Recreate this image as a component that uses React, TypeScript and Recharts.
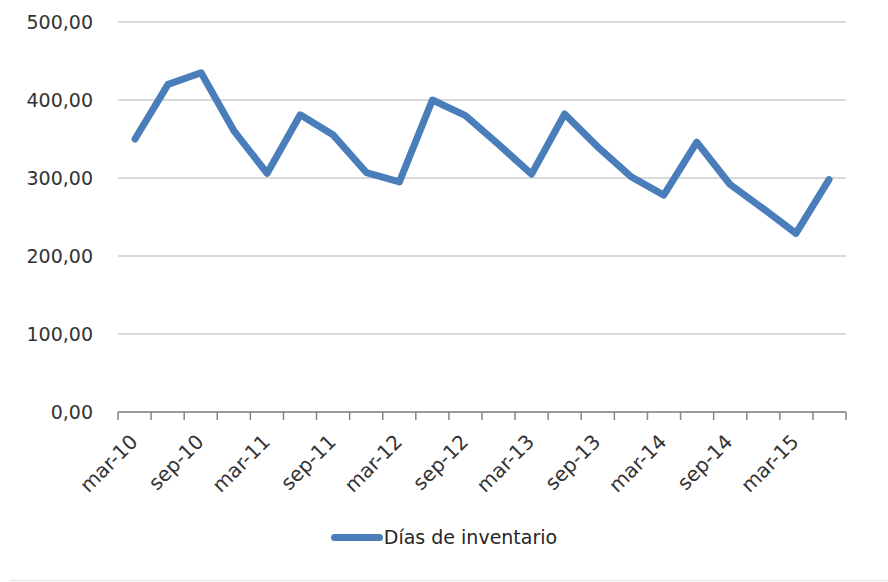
import {
  LineChart, Line, XAxis, YAxis, CartesianGrid, Legend,
} from "recharts";

const meses = [
  "mar-10", "jun-10", "sep-10", "dic-10",
  "mar-11", "jun-11", "sep-11", "dic-11",
  "mar-12", "jun-12", "sep-12", "dic-12",
  "mar-13", "jun-13", "sep-13", "dic-13",
  "mar-14", "jun-14", "sep-14", "dic-14",
  "mar-15", "jun-15",
];
const diasInventario = [
  350, 420, 435, 360, 306, 381, 355, 307, 295, 400, 380,
  343, 305, 382, 340, 302, 278, 346, 292, 261, 229, 298,
];
const yTicks = [0, 100, 200, 300, 400, 500];
// boundaries between the quarters, where the little tick marks sit
const limites = Array.from({ length: meses.length + 1 }, (_, i) => i - 0.5);

const data = meses.map((m, i) => ({ mes: m, pos: i, dias: diasInventario[i] }));

const FONT = "'DejaVu Sans', Verdana, sans-serif";
const AZUL = "#4a7ebb";
const TEXTO = "#333333";

const fmt = (v: number) => v.toFixed(2).replace(".", ",");

function MesTick({ x, y, payload }: any) {
  return (
    <g transform={`translate(${x},${y})`}>
      <text
        x={4}
        y={30}
        transform="rotate(-45 4 30)"
        textAnchor="end"
        fontFamily={FONT}
        fontSize={20}
        fill={TEXTO}
      >
        {payload.value}
      </text>
    </g>
  );
}

function Leyenda() {
  return (
    <div
      style={{
        display: "flex",
        alignItems: "center",
        justifyContent: "center",
        height: 24,
        fontFamily: FONT,
        fontSize: 19,
        color: "#262626",
      }}
    >
      <span style={{ display: "inline-block", width: 52, height: 7, borderRadius: 4, background: AZUL, marginRight: 1 }} />
      Días de inventario
    </div>
  );
}

export default function App() {
  return (
    <div style={{ position: "absolute", left: 0, top: 0, width: 888, height: 582, background: "#fff" }}>
      <LineChart
        width={888}
        height={582}
        data={data}
        margin={{ top: 22, right: 42, left: 0, bottom: 33 }}
      >
        <CartesianGrid horizontal vertical={false} stroke="#d9d9d9" strokeWidth={2} xAxisId="mes" />
        <XAxis
          xAxisId="marcas"
          dataKey="pos"
          type="number"
          domain={[-0.5, meses.length - 0.5]}
          ticks={limites}
          allowDataOverflow
          height={1}
          tick={() => <g />}
          tickSize={8}
          tickLine={{ stroke: "#868686", strokeWidth: 1.5 }}
          axisLine={{ stroke: "#868686", strokeWidth: 1.5 }}
        />
        <XAxis
          xAxisId="mes"
          dataKey="mes"
          interval={1}
          padding={{ left: 17, right: 17 }}
          height={112}
          tickSize={0}
          tickMargin={0}
          tickLine={false}
          axisLine={false}
          tick={<MesTick />}
        />
        <YAxis
          domain={[0, 500]}
          ticks={yTicks}
          width={118}
          tickSize={0}
          tickMargin={25}
          tickLine={false}
          axisLine={false}
          tickFormatter={fmt}
          tick={{ fontSize: 19, fontFamily: FONT, fill: TEXTO }}
        />
        <Legend verticalAlign="bottom" align="center" content={() => <Leyenda />} wrapperStyle={{ left: 0, width: 888 }} />
        <Line
          xAxisId="mes"
          type="linear"
          dataKey="dias"
          name="Días de inventario"
          stroke={AZUL}
          strokeWidth={7}
          strokeLinejoin="round"
          strokeLinecap="round"
          dot={false}
          activeDot={false}
          isAnimationActive={false}
        />
      </LineChart>
      <div style={{ position: "absolute", left: 10, top: 580, width: 878, height: 1, background: "#e3e3e3" }} />
    </div>
  );
}
